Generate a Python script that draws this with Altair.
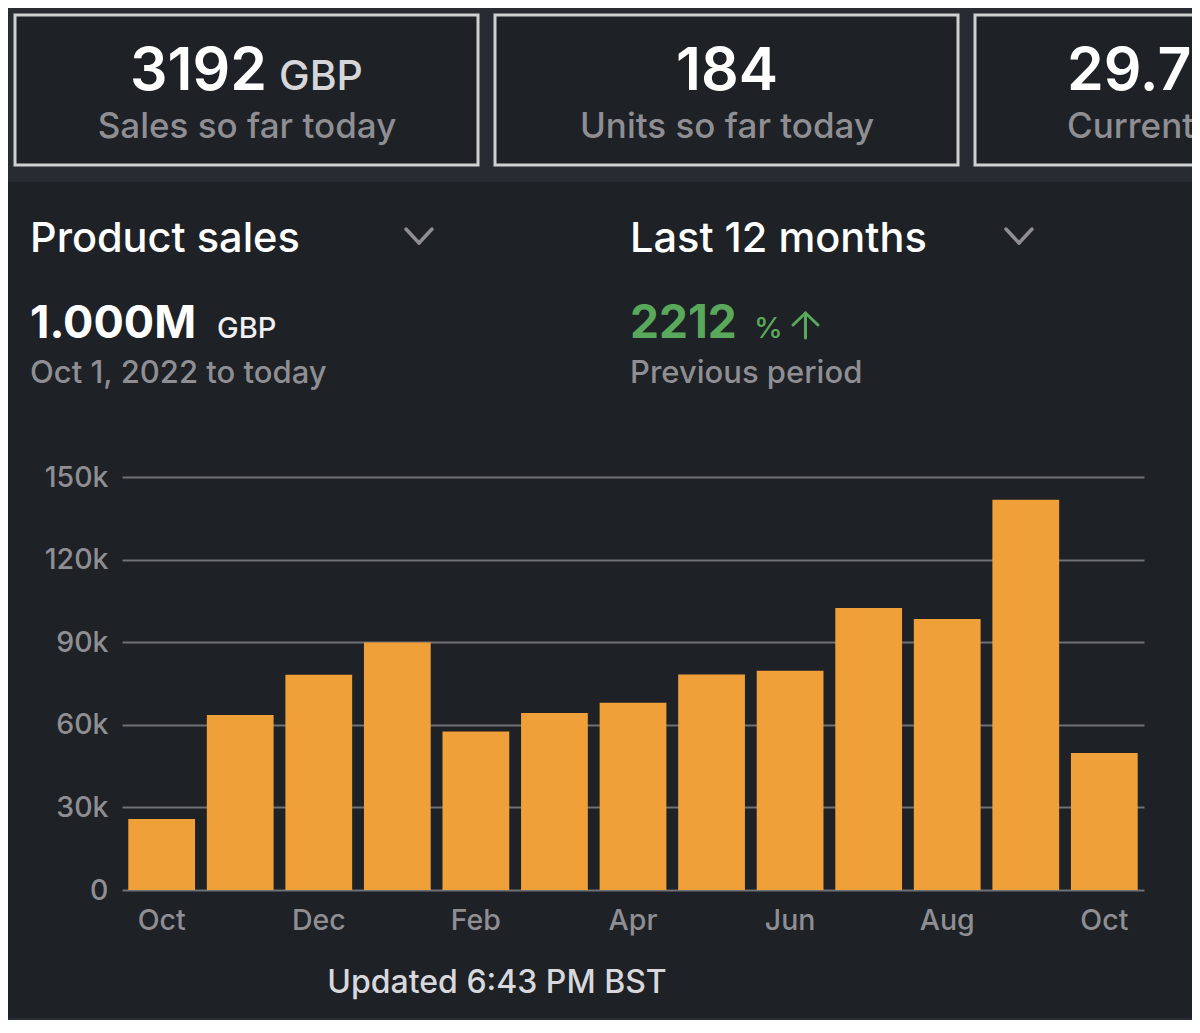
import altair as alt
import pandas as pd

# ---- data ----
months = ["Oct", "Nov", "Dec", "Jan", "Feb", "Mar", "Apr", "May", "Jun", "Jul", "Aug", "Sep", "Oct"]
sales_gbp = [25800, 63600, 78200, 89900, 57600, 64300, 68000, 78300, 79600, 102400, 98400, 141700, 49800]
y_tick_values = [0, 30000, 60000, 90000, 120000, 150000]
x_label_positions = [0, 2, 4, 6, 8, 10, 12]

df = pd.DataFrame({"idx": list(range(len(months))), "month": months, "sales": sales_gbp})
one = pd.DataFrame({"k": [0]})

# ---- styles ----
FONT = "Inter"
BG = "#1e2125"
STRIP = "#282b31"
CARD_BORDER = "#cfd0d2"
ORANGE = "#efa038"
GRAY = "#8e8e93"
GRID = "#6f7175"
GREEN = "#59a85b"
WHITE = "#ffffff"

PLOT_L, PLOT_T = 122, 477  # plot origin in page pixels
PLOT_W, PLOT_H = 1022, 413


def px(x):
    return x - PLOT_L


def py(y):
    return y - PLOT_T


def rect(x1, y1, x2, y2, fill, stroke=None, sw=0):
    kw = dict(fill=fill)
    if stroke:
        kw.update(stroke=stroke, strokeWidth=sw)
    return alt.Chart(one).mark_rect(**kw).encode(
        x=alt.value(px(x1)), x2=alt.value(px(x2)),
        y=alt.value(py(y1)), y2=alt.value(py(y2)))


def text(s, x, y, size, color, weight=400, align="left"):
    return alt.Chart(one).mark_text(
        text=s, font=FONT, fontSize=size, fontWeight=weight, color=color,
        align=align, baseline="alphabetic").encode(x=alt.value(px(x)), y=alt.value(py(y)))


def seg(x1, y1, x2, y2, color=GRAY, w=3.5):
    return alt.Chart(one).mark_rule(color=color, strokeWidth=w, strokeCap="round").encode(
        x=alt.value(px(x1)), x2=alt.value(px(x2)),
        y=alt.value(py(y1)), y2=alt.value(py(y2)))


layers = [
    rect(-10, -10, 1300, 182, STRIP),
    rect(-10, 1018, 1300, 1060, STRIP),
    rect(15, 15, 478, 165, BG, CARD_BORDER, 3),
    rect(495, 15, 958, 165, BG, CARD_BORDER, 3),
    rect(975, 15, 1400, 165, BG, CARD_BORDER, 3),
    text("3192", 267, 90, 59, WHITE, 600, "right"),
    text("GBP", 279, 90, 41, "#d6d6da", 500),
    text("Sales so far today", 247, 138, 35, GRAY, 500, "center"),
    text("184", 727, 90, 59, WHITE, 600, "center"),
    text("Units so far today", 727, 138, 35, GRAY, 500, "center"),
    text("29.77", 1067, 90, 59, WHITE, 600),
    text("Current", 1067, 138, 35, GRAY, 500),
    text("Product sales", 30, 252, 41.5, WHITE, 500),
    seg(406, 229, 419, 243), seg(419, 243, 432, 229),
    text("Last 12 months", 630, 252, 41.5, WHITE, 500),
    seg(1006, 229, 1019, 243), seg(1019, 243, 1032, 229),
    text("1.000M", 30, 338, 45, WHITE, 700),
    text("GBP", 217, 338, 29, "#f0f0f2", 500),
    text("Oct 1, 2022 to today", 30, 383, 31, GRAY, 500),
    text("2212", 630, 338, 46, GREEN, 700),
    text("%", 754, 338, 29, GREEN, 500),
    seg(805.5, 313, 805.5, 338, GREEN, 3),
    seg(793, 325, 805.5, 313, GREEN, 3),
    seg(805.5, 313, 818, 325, GREEN, 3),
    text("Previous period", 630, 383, 31, GRAY, 500),
    text("Updated 6:43 PM BST", 497, 993, 32, "#d8d8dc", 500, "center"),
]

labels_js = "[" + ",".join(f"'{m}'" for m in months) + "]"

bars = alt.Chart(df).mark_bar(color=ORANGE).encode(
    x=alt.X("idx:O",
            scale=alt.Scale(paddingInner=0.15, paddingOuter=0.08),
            axis=alt.Axis(title=None, values=x_label_positions,
                          labelExpr=f"{labels_js}[datum.value]",
                          labelAngle=0, domain=False, ticks=False, tickSize=0,
                          labelPadding=39, labelBaseline="alphabetic",
                          labelFont=FONT, labelFontSize=28.5, labelColor=GRAY,
                          labelFontWeight=500, grid=False)),
    y=alt.Y("sales:Q",
            scale=alt.Scale(domain=[0, 150000], nice=False),
            axis=alt.Axis(title=None, values=y_tick_values,
                          labelExpr="datum.value == 0 ? '0' : (datum.value / 1000) + 'k'",
                          domain=False, ticks=False, tickSize=0, labelPadding=14,
                          labelFont=FONT, labelFontSize=28.5, labelColor=GRAY,
                          labelFontWeight=500,
                          gridColor=GRID, gridWidth=2, gridOpacity=1)),
)

chart = alt.layer(*layers, bars).properties(
    width=PLOT_W,
    height=PLOT_H,
    autosize=alt.AutoSizeParams(type="none"),
    padding={"left": PLOT_L - 8, "top": PLOT_T - 8, "right": 48, "bottom": 130},
).configure(background=BG).configure_view(stroke=None)

chart.save("out.html", embed_options={"renderer": "svg", "actions": False})
